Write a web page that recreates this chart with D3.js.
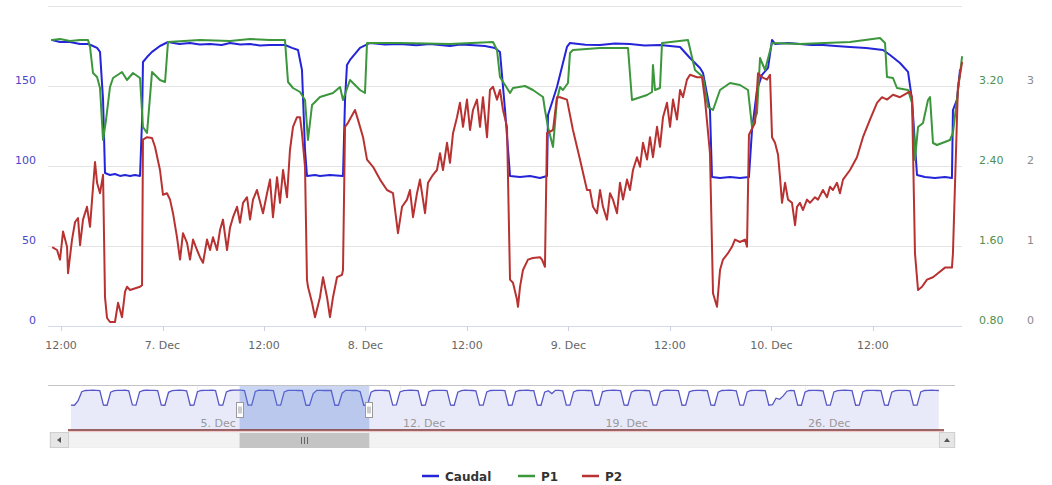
<!DOCTYPE html>
<html><head><meta charset="utf-8">
<script src="https://cdn.jsdelivr.net/npm/d3@7"></script>
<style>body{margin:0;background:#fff}svg{display:block}text{font-family:"DejaVu Sans",Verdana,sans-serif}</style>
</head><body><svg id="c" width="1052" height="485"></svg>
<script>
// time = hours since 6 Dec 00:00
const caudal = [[10.94,178.8],[11.88,177.5],[13.06,177.5],[14.25,176.3],[15.19,176.3],[15.78,175.0],[16.26,173.8],[16.61,171.3],[16.97,141.3],[17.20,95.6],[17.79,94.4],[18.38,95.0],[18.97,93.8],[19.57,94.4],[20.16,93.8],[20.75,94.4],[21.34,93.8],[21.58,128.8],[21.69,165.0],[22.17,168.1],[22.76,171.3],[23.70,175.0],[24.65,177.5],[26.0,176.3],[27.25,176.9],[28.4,175.9],[29.62,176.3],[31.0,175.6],[31.98,176.9],[33.2,176.0],[34.35,176.3],[35.5,175.3],[36.71,175.6],[38.48,175.6],[39.31,173.8],[40.02,172.5],[40.49,160.0],[40.85,110.0],[41.08,93.8],[42.03,94.4],[42.62,93.8],[43.80,94.4],[45.34,93.8],[45.58,141.3],[45.81,163.1],[46.17,166.3],[47.35,173.8],[48.53,176.9],[50.3,176.0],[52.08,176.3],[54.0,175.4],[55.63,176.3],[57.99,175.0],[59.2,176.0],[60.36,175.6],[62.13,175.0],[63.31,173.8],[63.90,171.3],[64.50,135.0],[65.09,93.8],[66.27,93.1],[67.45,93.8],[68.63,92.5],[69.46,93.8],[69.58,131.9],[70.64,149.4],[71.82,174.4],[72.18,176.9],[74.0,175.8],[75.73,175.6],[77.5,176.6],[79.27,176.3],[81.0,175.3],[82.82,175.6],[85.19,174.4],[86.37,167.5],[87.55,161.3],[87.91,158.1],[88.73,135.0],[88.97,93.1],[89.92,92.5],[91.10,93.1],[92.28,92.5],[93.34,93.1],[93.70,122.5],[94.29,147.5],[94.88,156.9],[95.60,161.3],[96.07,178.8],[96.42,176.3],[98.0,176.9],[99.37,176.3],[100.7,175.6],[102.09,175.6],[103.6,175.0],[105.29,174.4],[107.2,173.8],[109.19,172.5],[110.02,169.4],[111.20,164.4],[112.15,158.8],[112.62,141.3],[113.21,94.4],[114.15,93.1],[115.33,92.5],[116.52,93.1],[117.34,92.5],[117.46,135.0],[117.93,141.3],[118.29,160.0]];

const p1 = [[10.94,3.66],[11.88,3.67],[13.06,3.65],[14.25,3.66],[15.19,3.66],[15.43,3.59],[15.78,3.33],[16.26,3.29],[16.61,3.18],[16.97,2.66],[17.32,2.86],[17.79,3.19],[18.15,3.28],[19.21,3.34],[19.80,3.26],[20.51,3.33],[21.34,3.28],[21.69,2.79],[22.17,2.73],[22.76,3.34],[23.70,3.26],[24.30,3.24],[24.65,3.64],[28.43,3.66],[31.98,3.65],[34.35,3.67],[36.71,3.66],[38.48,3.66],[38.84,3.24],[39.43,3.18],[40.26,3.14],[40.85,3.06],[41.20,2.66],[41.68,3.01],[42.62,3.09],[44.16,3.13],[44.99,3.19],[45.34,3.06],[46.17,3.26],[47.35,3.16],[47.94,3.13],[48.18,3.63],[52.08,3.63],[57.99,3.62],[63.08,3.64],[63.55,3.56],[63.90,3.29],[64.50,3.21],[65.09,3.13],[65.44,3.18],[66.86,3.20],[67.80,3.16],[68.99,3.09],[69.22,2.96],[69.58,2.79],[70.17,2.59],[70.64,3.06],[71.00,3.19],[71.35,3.16],[71.94,3.23],[72.18,3.53],[72.53,3.56],[75.73,3.58],[79.04,3.58],[79.51,3.06],[81.29,3.11],[81.88,3.14],[81.99,3.41],[82.23,3.16],[82.82,3.18],[83.06,3.63],[86.13,3.66],[86.96,3.36],[87.91,3.29],[88.50,2.99],[89.09,2.96],[89.92,3.16],[91.10,3.23],[92.28,3.21],[93.23,3.16],[93.70,2.79],[94.29,2.93],[94.65,3.48],[95.24,3.36],[96.07,3.63],[99.37,3.62],[105.29,3.64],[108.84,3.68],[109.43,3.63],[109.66,3.29],[110.37,3.28],[110.84,3.18],[112.15,3.16],[112.62,3.03],[112.97,2.46],[113.33,2.79],[113.92,2.83],[114.51,3.06],[114.75,3.09],[115.10,2.63],[115.57,2.61],[117.11,2.66],[117.46,2.73],[118.53,3.49]];

const p2 = [[11.05,0.98],[11.53,0.95],[11.88,0.83],[12.24,1.18],[12.71,0.99],[12.83,0.66],[13.30,1.08],[13.66,1.30],[14.01,1.35],[14.25,1.01],[14.60,1.33],[15.07,1.49],[15.43,1.24],[15.67,1.58],[16.02,2.05],[16.26,1.79],[16.61,1.66],[16.97,1.89],[17.20,0.36],[17.44,0.10],[17.79,0.05],[18.38,0.05],[18.74,0.29],[19.21,0.11],[19.57,0.43],[19.80,0.49],[20.16,0.45],[21.34,0.49],[21.58,0.51],[21.69,2.33],[22.17,2.36],[22.76,2.35],[23.11,2.24],[23.70,1.95],[24.06,1.64],[24.53,1.66],[24.89,1.58],[25.24,1.41],[25.71,1.11],[26.07,0.83],[26.42,1.16],[26.90,1.04],[27.25,0.83],[27.61,1.08],[28.08,0.95],[28.43,0.86],[28.79,0.79],[29.26,1.08],[29.62,0.95],[29.97,1.11],[30.44,0.95],[30.80,1.20],[31.15,1.33],[31.63,0.95],[31.98,1.23],[32.34,1.36],[32.81,1.49],[33.16,1.29],[33.52,1.54],[33.99,1.61],[34.35,1.33],[34.70,1.58],[35.17,1.70],[35.88,1.41],[36.36,1.66],[36.71,1.83],[37.06,1.36],[37.54,1.86],[37.89,1.54],[38.25,1.95],[38.72,1.61],[39.07,2.20],[39.43,2.49],[39.90,2.61],[40.26,2.61],[40.49,2.41],[40.85,1.99],[41.08,0.58],[41.20,0.49],[41.68,0.29],[42.03,0.11],[42.62,0.36],[42.98,0.61],[43.45,0.36],[43.80,0.11],[44.16,0.36],[44.63,0.61],[45.22,0.64],[45.34,0.70],[45.58,2.49],[45.93,2.54],[46.76,2.70],[47.11,2.58],[47.71,2.36],[48.18,2.08],[48.89,1.99],[49.72,1.83],[50.54,1.70],[51.25,1.66],[51.84,1.16],[52.32,1.49],[52.91,1.58],[53.26,1.70],[53.62,1.36],[54.09,1.66],[54.44,1.83],[55.04,1.41],[55.39,1.79],[55.98,1.89],[56.45,1.95],[56.81,2.16],[57.16,1.95],[57.64,2.29],[57.99,2.04],[58.35,2.41],[58.82,2.61],[59.17,2.79],[59.53,2.49],[60.00,2.83],[60.36,2.45],[60.71,2.70],[61.18,2.83],[61.54,2.49],[61.89,2.86],[62.37,2.36],[62.72,2.95],[63.08,2.99],[63.55,2.83],[63.90,2.95],[64.26,2.70],[64.73,2.49],[65.09,0.58],[65.44,0.54],[65.91,0.33],[66.03,0.24],[66.27,0.49],[66.62,0.70],[67.21,0.83],[67.80,0.85],[68.63,0.86],[68.87,0.83],[69.22,0.74],[69.46,2.41],[70.17,2.45],[70.64,2.86],[71.00,2.86],[71.82,2.83],[72.53,2.45],[73.36,2.08],[74.19,1.70],[74.54,1.70],[74.90,1.49],[75.37,1.41],[75.73,1.70],[76.08,1.49],[76.55,1.33],[76.91,1.66],[77.26,1.58],[77.74,1.41],[78.09,1.79],[78.45,1.58],[78.92,1.83],[79.27,1.70],[79.63,1.95],[80.10,2.11],[80.46,1.99],[80.81,2.29],[81.29,2.08],[81.64,2.36],[81.99,2.11],[82.47,2.49],[82.82,2.24],[83.18,2.61],[83.65,2.79],[84.01,2.49],[84.36,2.83],[84.83,2.58],[85.19,2.95],[85.54,2.86],[86.01,3.08],[86.37,3.14],[87.20,3.11],[87.79,3.11],[88.14,2.83],[88.73,2.16],[89.09,0.41],[89.56,0.24],[89.92,0.70],[90.27,0.83],[90.86,0.91],[91.33,0.99],[91.69,1.08],[92.28,1.05],[92.87,1.08],[93.11,0.99],[93.34,2.39],[94.06,2.54],[94.41,3.16],[94.88,3.11],[95.48,3.08],[95.83,3.14],[96.07,2.36],[96.42,2.29],[96.78,2.14],[97.01,1.86],[97.25,1.54],[97.61,1.79],[97.96,1.58],[98.43,1.54],[98.79,1.26],[99.02,1.49],[99.37,1.54],[99.73,1.45],[100.20,1.58],[100.56,1.54],[101.15,1.61],[101.50,1.58],[102.09,1.70],[102.57,1.61],[102.92,1.74],[103.27,1.70],[103.75,1.79],[104.10,1.66],[104.46,1.83],[105.29,1.95],[106.11,2.11],[106.82,2.36],[107.65,2.58],[108.48,2.79],[109.07,2.86],[109.66,2.83],[110.37,2.89],[111.20,2.86],[112.03,2.91],[112.38,2.93],[112.62,2.86],[112.97,0.91],[113.33,0.45],[113.80,0.49],[114.39,0.58],[115.10,0.61],[115.69,0.66],[116.52,0.73],[117.34,0.73],[117.46,0.91],[118.05,2.99],[118.53,3.29]];

const xTickHours = [12,24,36,48,60,72,84,96,108];
const xTickLabels = ["12:00","7. Dec","12:00","8. Dec","12:00","9. Dec","12:00","10. Dec","12:00"];
const leftGrid = [0,50,100,150,200];
const leftLabels = ["0","50","100","150"];
const p1Ticks = [0.8,1.6,2.4,3.2];
const p1Labels = ["0.80","1.60","2.40","3.20"];
const p2Ticks = [0,1,2,3];
const p2Labels = ["0","1","2","3"];

// navigator: Caudal every 3 hours starting 30 Nov 15:00 (hour -129)
const navStart = -129, navStep = 3;
const navCaudal = [
 94,93,118,
 168,175,176,177,176,174,94,93,
 166,174,176,176,177,173,95,94,
 167,175,177,176,176,174,94,93,
 165,174,176,177,176,173,93,94,
 168,175,176,176,177,174,94,94,
 167,175,177,177,177,174,94,94,
 170,177,176,177,176,174,94,94,
 167,176,176,176,175,174,93,93,
 158,176,176,175,175,175,93,93,
 160,176,176,175,175,168,93,93,
 166,175,176,176,175,173,94,95,
 167,174,176,177,176,174,93,94,
 168,175,176,176,176,174,94,93,
 166,174,177,176,175,173,94,94,
 167,175,176,176,176,174,93,94,
 168,175,176,177,175,174,94,93,
 166,174,158,176,176,173,94,94,
 167,175,176,176,175,174,93,94,
 168,174,176,177,176,174,94,93,
 166,175,176,176,175,173,94,94,
 167,175,177,176,176,174,93,94,
 168,174,176,176,175,174,94,93,
 166,175,176,177,176,173,94,94,
 167,175,176,176,175,174,93,96,
 132,126,145,171,176,174,94,93,
 166,175,176,176,175,173,94,94,
 167,174,176,177,176,174,93,94,
 168,175,176,176,175,174,94,93,
 166,174,176,176,176,173,94,94,
 167,175,176,177,176,175];
const navTickHours = [-24,144,312,480];
const navTickLabels = ["5. Dec","12. Dec","19. Dec","26. Dec"];
const seriesNames = ["Caudal","P1","P2"];
const seriesColors = ["#2424d8","#3c963c","#b83232"];

const svg = d3.select("#c");
const L=48, R=962, T=6, B=326;
const x = d3.scaleLinear().domain([10.46,118.53]).range([L,R]);
const yC = d3.scaleLinear().domain([0,200]).range([B,T]);
const y1 = d3.scaleLinear().domain([0.8,4.0]).range([B,T]);
const y2 = d3.scaleLinear().domain([0,4]).range([B,T]);

// grid
svg.append("g").selectAll("line").data(leftGrid).join("line")
  .attr("x1",L).attr("x2",R).attr("y1",d=>Math.round(yC(d))+0.5).attr("y2",d=>Math.round(yC(d))+0.5)
  .attr("stroke",(d)=>d===0?"#d4dbe8":"#e4e4e4").attr("stroke-width",1);

// x axis ticks + labels
const xa = svg.append("g");
xa.selectAll("line").data(xTickHours).join("line")
  .attr("x1",d=>Math.round(x(d))+0.5).attr("x2",d=>Math.round(x(d))+0.5).attr("y1",B).attr("y2",B+5)
  .attr("stroke","#c8d2e2");
xa.selectAll("text").data(xTickHours).join("text")
  .attr("x",d=>x(d)).attr("y",349).attr("text-anchor","middle")
  .attr("font-size",11).attr("fill","#666").text((d,i)=>xTickLabels[i]);

// y labels
svg.append("g").selectAll("text").data(leftLabels).join("text")
  .attr("x",36).attr("y",d=>yC(+d)-2).attr("text-anchor","end")
  .attr("font-size",11).attr("fill","#4848c8").text(d=>d);
svg.append("g").selectAll("text").data(p1Ticks).join("text")
  .attr("x",979).attr("y",d=>y1(d)-2).attr("font-size",11).attr("fill","#4f8f4f")
  .text((d,i)=>p1Labels[i]);
svg.append("g").selectAll("text").data(p2Ticks).join("text")
  .attr("x",1027).attr("y",d=>y2(d)-2).attr("font-size",11).attr("fill","#8a8a8a")
  .text((d,i)=>p2Labels[i]);

// series
svg.append("clipPath").attr("id","clip").append("rect").attr("x",L).attr("y",0).attr("width",R-L+2).attr("height",B+2);
const plot = svg.append("g").attr("clip-path","url(#clip)");
const mk = (ys)=>d3.line().x(d=>x(d[0])).y(d=>ys(d[1]));
[[caudal,yC],[p1,y1],[p2,y2]].forEach(([data,ys],i)=>{
  plot.append("path").attr("d",mk(ys)(data)).attr("fill","none")
    .attr("stroke",seriesColors[i]).attr("stroke-width",2)
    .attr("stroke-linejoin","round").attr("stroke-linecap","round");
});

// navigator
const NL=68, NR=940, NT=385, NB=430;
const nx = d3.scaleLinear().domain([-131.4,592]).range([NL,NR]);
const ny = d3.scaleLinear().domain([0,200]).range([422,386]);
const navData = navCaudal.map((v,i)=>[navStart+i*navStep,v]);
const ng = svg.append("g");
// nav grid lines
ng.selectAll("line.g").data(navTickHours).join("line").attr("class","g")
  .attr("x1",d=>Math.round(nx(d))+0.5).attr("x2",d=>Math.round(nx(d))+0.5).attr("y1",NT).attr("y2",NB)
  .attr("stroke","#eeeeee");
ng.append("path").attr("d",d3.area().x(d=>nx(d[0])).y0(NB).y1(d=>ny(d[1]))(navData))
  .attr("fill","#e9eaf9");
ng.append("path").attr("d",d3.line().x(d=>nx(d[0])).y(d=>ny(d[1]))(navData))
  .attr("fill","none").attr("stroke","#5656c8").attr("stroke-width",1.3);
// nav labels
ng.selectAll("text").data(navTickHours).join("text")
  .attr("x",d=>nx(d)+3).attr("y",427).attr("font-size",11).attr("fill","#999")
  .text((d,i)=>navTickLabels[i]);
// mask for selected range
const s0 = nx(caudal[0][0]), s1 = nx(p2[p2.length-1][0]);
ng.append("rect").attr("x",s0).attr("y",NT).attr("width",s1-s0).attr("height",NB-NT)
  .attr("fill","rgba(95,130,215,0.33)");
// outline top
ng.append("line").attr("x1",48).attr("x2",955).attr("y1",NT+0.5).attr("y2",NT+0.5).attr("stroke","#c4c4c8");
// bottom dark line
ng.append("line").attr("x1",NL).attr("x2",NR+4).attr("y1",NB).attr("y2",NB).attr("stroke","#7e3434").attr("stroke-width",1.6);
ng.append("line").attr("x1",NL).attr("x2",NR+4).attr("y1",NB+1.5).attr("y2",NB+1.5).attr("stroke","#f0c8c8").attr("stroke-width",1);
// handles
[s0,s1].forEach(sx=>{
  const h=ng.append("g").attr("transform",`translate(${Math.round(sx)-3.5},402.5)`);
  h.append("rect").attr("width",7).attr("height",15).attr("fill","#fff").attr("stroke","#999");
  h.append("line").attr("x1",2.5).attr("x2",2.5).attr("y1",4).attr("y2",11).attr("stroke","#999");
  h.append("line").attr("x1",4.5).attr("x2",4.5).attr("y1",4).attr("y2",11).attr("stroke","#999");
});
// scrollbar
const sb = svg.append("g");
sb.append("rect").attr("x",50).attr("y",432.5).attr("width",905).attr("height",15).attr("fill","#f2f2f2").attr("stroke","#eeeeee");
sb.append("rect").attr("x",50.5).attr("y",432.5).attr("width",18).attr("height",15).attr("fill","#e6e6e6").attr("stroke","#d0d0d0");
sb.append("rect").attr("x",939.5).attr("y",432.5).attr("width",15).attr("height",15).attr("fill","#e6e6e6").attr("stroke","#d0d0d0");
sb.append("path").attr("d","M61,437 L61,443 L57,440 Z").attr("fill","#555");
sb.append("path").attr("d","M944,442 L950,442 L947,438 Z").attr("fill","#555");
sb.append("rect").attr("x",s0).attr("y",433).attr("width",s1-s0).attr("height",15).attr("fill","#c4c4c4");
const gc=(s0+s1)/2;
[-3,0,3].forEach(o=>sb.append("line").attr("x1",Math.round(gc+o)+0.5).attr("x2",Math.round(gc+o)+0.5).attr("y1",437).attr("y2",444).attr("stroke","#666"));

// legend
const legX = [422,518,582];
const lg = svg.append("g");
seriesNames.forEach((n,i)=>{
  lg.append("line").attr("x1",legX[i]).attr("x2",legX[i]+17).attr("y1",476).attr("y2",476)
    .attr("stroke",seriesColors[i]).attr("stroke-width",2.5);
  lg.append("text").attr("x",legX[i]+23).attr("y",480.5).attr("font-size",12).attr("font-weight","bold")
    .attr("fill","#333").attr("font-family","'Liberation Sans',Arial,sans-serif").text(n);
});
</script></body></html>
